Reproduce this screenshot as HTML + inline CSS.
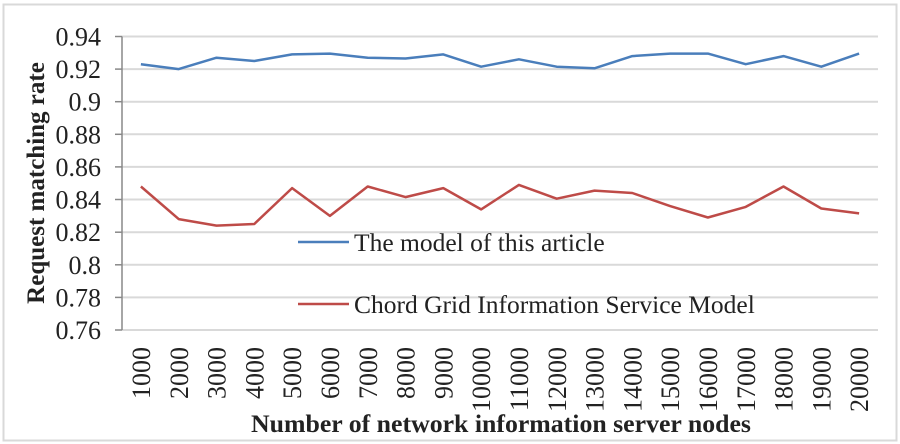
<!DOCTYPE html>
<html><head><meta charset="utf-8"><style>
html,body{margin:0;padding:0;background:#fff;}
svg{display:block;}
svg text{font-family:"Liberation Serif","Times New Roman",serif;}
</style></head><body>
<svg width="900" height="444" viewBox="0 0 900 444" xmlns="http://www.w3.org/2000/svg" font-family="Liberation Serif, serif">
<rect x="3.5" y="4.5" width="893" height="436" fill="#fff" stroke="#d9d9d9" stroke-width="2"/>
<g stroke="#d9d9d9" stroke-width="2">
<line x1="122" y1="36.5" x2="878" y2="36.5"/>
<line x1="122" y1="69.1" x2="878" y2="69.1"/>
<line x1="122" y1="101.7" x2="878" y2="101.7"/>
<line x1="122" y1="134.3" x2="878" y2="134.3"/>
<line x1="122" y1="166.9" x2="878" y2="166.9"/>
<line x1="122" y1="199.5" x2="878" y2="199.5"/>
<line x1="122" y1="232.2" x2="878" y2="232.2"/>
<line x1="122" y1="264.8" x2="878" y2="264.8"/>
<line x1="122" y1="297.4" x2="878" y2="297.4"/>
<line x1="122" y1="330" x2="878" y2="330"/>
</g>
<g stroke="#888" stroke-width="1.5">
<line x1="122" y1="36.5" x2="122" y2="330"/>
<line x1="115" y1="36.5" x2="122" y2="36.5"/>
<line x1="115" y1="69.1" x2="122" y2="69.1"/>
<line x1="115" y1="101.7" x2="122" y2="101.7"/>
<line x1="115" y1="134.3" x2="122" y2="134.3"/>
<line x1="115" y1="166.9" x2="122" y2="166.9"/>
<line x1="115" y1="199.5" x2="122" y2="199.5"/>
<line x1="115" y1="232.2" x2="122" y2="232.2"/>
<line x1="115" y1="264.8" x2="122" y2="264.8"/>
<line x1="115" y1="297.4" x2="122" y2="297.4"/>
<line x1="115" y1="330" x2="122" y2="330"/>
</g>
<g font-size="26" fill="#222" text-anchor="end">
<text x="101" y="45.5">0.94</text>
<text x="101" y="78.1">0.92</text>
<text x="101" y="110.7">0.9</text>
<text x="101" y="143.3">0.88</text>
<text x="101" y="175.9">0.86</text>
<text x="101" y="208.5">0.84</text>
<text x="101" y="241.2">0.82</text>
<text x="101" y="273.8">0.8</text>
<text x="101" y="306.4">0.78</text>
<text x="101" y="339">0.76</text>
</g>
<text transform="translate(44,183) rotate(-90)" text-anchor="middle" font-size="25" font-weight="bold" fill="#222">Request  matching rate</text>
<polyline fill="none" stroke="#4a7ebb" stroke-width="2.5" stroke-linejoin="round" points="140.9,64.2 178.7,69.1 216.5,57.7 254.3,61.0 292.1,54.4 329.9,53.6 367.7,57.7 405.5,58.5 443.3,54.4 481.1,66.7 518.9,59.3 556.7,66.7 594.5,68.3 632.3,56.1 670.1,53.6 707.9,53.6 745.7,64.2 783.5,56.1 821.3,66.7 859.1,53.6"/>
<polyline fill="none" stroke="#be4b48" stroke-width="2.5" stroke-linejoin="round" points="140.9,186.5 178.7,219.1 216.5,225.6 254.3,224.0 292.1,188.1 329.9,215.9 367.7,186.5 405.5,197.1 443.3,188.1 481.1,209.4 518.9,184.9 556.7,198.7 594.5,190.6 632.3,193.0 670.1,206.1 707.9,217.5 745.7,206.9 783.5,186.5 821.3,208.5 859.1,213.4"/>
<line x1="298" y1="242" x2="349" y2="242" stroke="#4a7ebb" stroke-width="2.5"/>
<text x="354" y="251" font-size="25.5" fill="#222">The model of this article</text>
<line x1="298" y1="304" x2="349" y2="304" stroke="#be4b48" stroke-width="2.5"/>
<text x="354" y="313" font-size="25.5" fill="#222">Chord Grid Information Service Model</text>
<g font-size="26" fill="#222" text-anchor="end">
<text transform="translate(150,347) rotate(-90)">1000</text>
<text transform="translate(187.8,347) rotate(-90)">2000</text>
<text transform="translate(225.6,347) rotate(-90)">3000</text>
<text transform="translate(263.4,347) rotate(-90)">4000</text>
<text transform="translate(301.2,347) rotate(-90)">5000</text>
<text transform="translate(339,347) rotate(-90)">6000</text>
<text transform="translate(376.8,347) rotate(-90)">7000</text>
<text transform="translate(414.6,347) rotate(-90)">8000</text>
<text transform="translate(452.4,347) rotate(-90)">9000</text>
<text transform="translate(490.2,347) rotate(-90)">10000</text>
<text transform="translate(528,347) rotate(-90)">11000</text>
<text transform="translate(565.8,347) rotate(-90)">12000</text>
<text transform="translate(603.6,347) rotate(-90)">13000</text>
<text transform="translate(641.4,347) rotate(-90)">14000</text>
<text transform="translate(679.2,347) rotate(-90)">15000</text>
<text transform="translate(717,347) rotate(-90)">16000</text>
<text transform="translate(754.8,347) rotate(-90)">17000</text>
<text transform="translate(792.6,347) rotate(-90)">18000</text>
<text transform="translate(830.4,347) rotate(-90)">19000</text>
<text transform="translate(868.2,347) rotate(-90)">20000</text>
</g>
<text x="501" y="432" text-anchor="middle" font-size="25.8" font-weight="bold" fill="#222">Number of network information server nodes</text>
</svg>
</body></html>
